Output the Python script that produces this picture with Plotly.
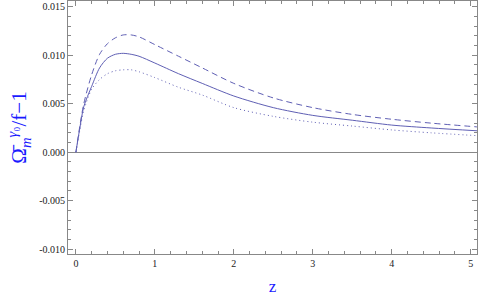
import plotly.graph_objects as go

z = [0, 0.05, 0.1, 0.2, 0.3, 0.4, 0.5, 0.6, 0.7, 0.8, 1.0, 1.3, 1.6, 2.0, 2.5, 3.0, 3.5, 4.0, 4.5, 5.1]
solid = [0, 0.0025, 0.0047, 0.0068, 0.0087, 0.0097, 0.0101, 0.0102, 0.0101, 0.0099, 0.0092, 0.0081, 0.0071, 0.0058, 0.0046, 0.0038, 0.0033, 0.0028, 0.0025, 0.0022]
dashed = [0, 0.0027, 0.0050, 0.0080, 0.0101, 0.0112, 0.0118, 0.0121, 0.0121, 0.0119, 0.0111, 0.0099, 0.0087, 0.0071, 0.0056, 0.0046, 0.0039, 0.0034, 0.0030, 0.0026]
dotted = [0, 0.0023, 0.0043, 0.0065, 0.0075, 0.0081, 0.0084, 0.0085, 0.0085, 0.0083, 0.0077, 0.0067, 0.0059, 0.0046, 0.0037, 0.0031, 0.0027, 0.0023, 0.0020, 0.0017]

xticks = [0, 1, 2, 3, 4, 5]
yticks = [-0.010, -0.005, 0.0, 0.005, 0.010, 0.015]
ytick_labels = ["-0.010", "-0.005", "0.000", "0.005", "0.010", "0.015"]

color = "rgb(95,95,180)"
fig = go.Figure()
for ys, dash in [(dashed, "6px,4px"), (solid, "solid"), (dotted, "1px,3px")]:
    fig.add_trace(go.Scatter(x=z, y=ys, mode="lines", hoverinfo="skip",
                             line=dict(color=color, width=1, dash=dash, shape="spline", smoothing=0.8),
                             showlegend=False))

axis_common = dict(
    showgrid=False, ticks="inside", ticklen=5, tickcolor="#888", tickwidth=1,
    showline=True, linecolor="#888", linewidth=1, mirror="allticks",
    tickfont=dict(family="Liberation Serif", size=10, color="#222"),
)
fig.update_xaxes(range=[-0.1, 5.08], tickvals=xticks, ticktext=[str(v) for v in xticks],
                 minor=dict(dtick=0.2, ticks="inside", ticklen=3, tickcolor="#888"),
                 zeroline=False,
                 title=dict(text="z", font=dict(family="Liberation Serif", size=17, color="#1a1aff"), standoff=14),
                 **axis_common)
fig.update_yaxes(range=[-0.0105, 0.0156], tickvals=yticks, ticktext=ytick_labels,
                 minor=dict(dtick=0.001, ticks="inside", ticklen=3, tickcolor="#888"),
                 zeroline=True, zerolinecolor="#888", zerolinewidth=1,
                 title=dict(text="Ω\u0304<sub><i>m</i></sub><sup><i>γ</i>₀</sup>/f−1", font=dict(family="Liberation Serif", size=21, color="#1a1aff"), standoff=6),
                 **axis_common)
fig.update_layout(width=480, height=296, margin=dict(l=68, r=3, t=1, b=42),
                  paper_bgcolor="white", plot_bgcolor="white", hovermode=False)
fig.write_html("out.html", config={"displayModeBar": False, "staticPlot": True},
               post_script="document.body.style.margin='0';document.body.style.overflow='hidden';")
